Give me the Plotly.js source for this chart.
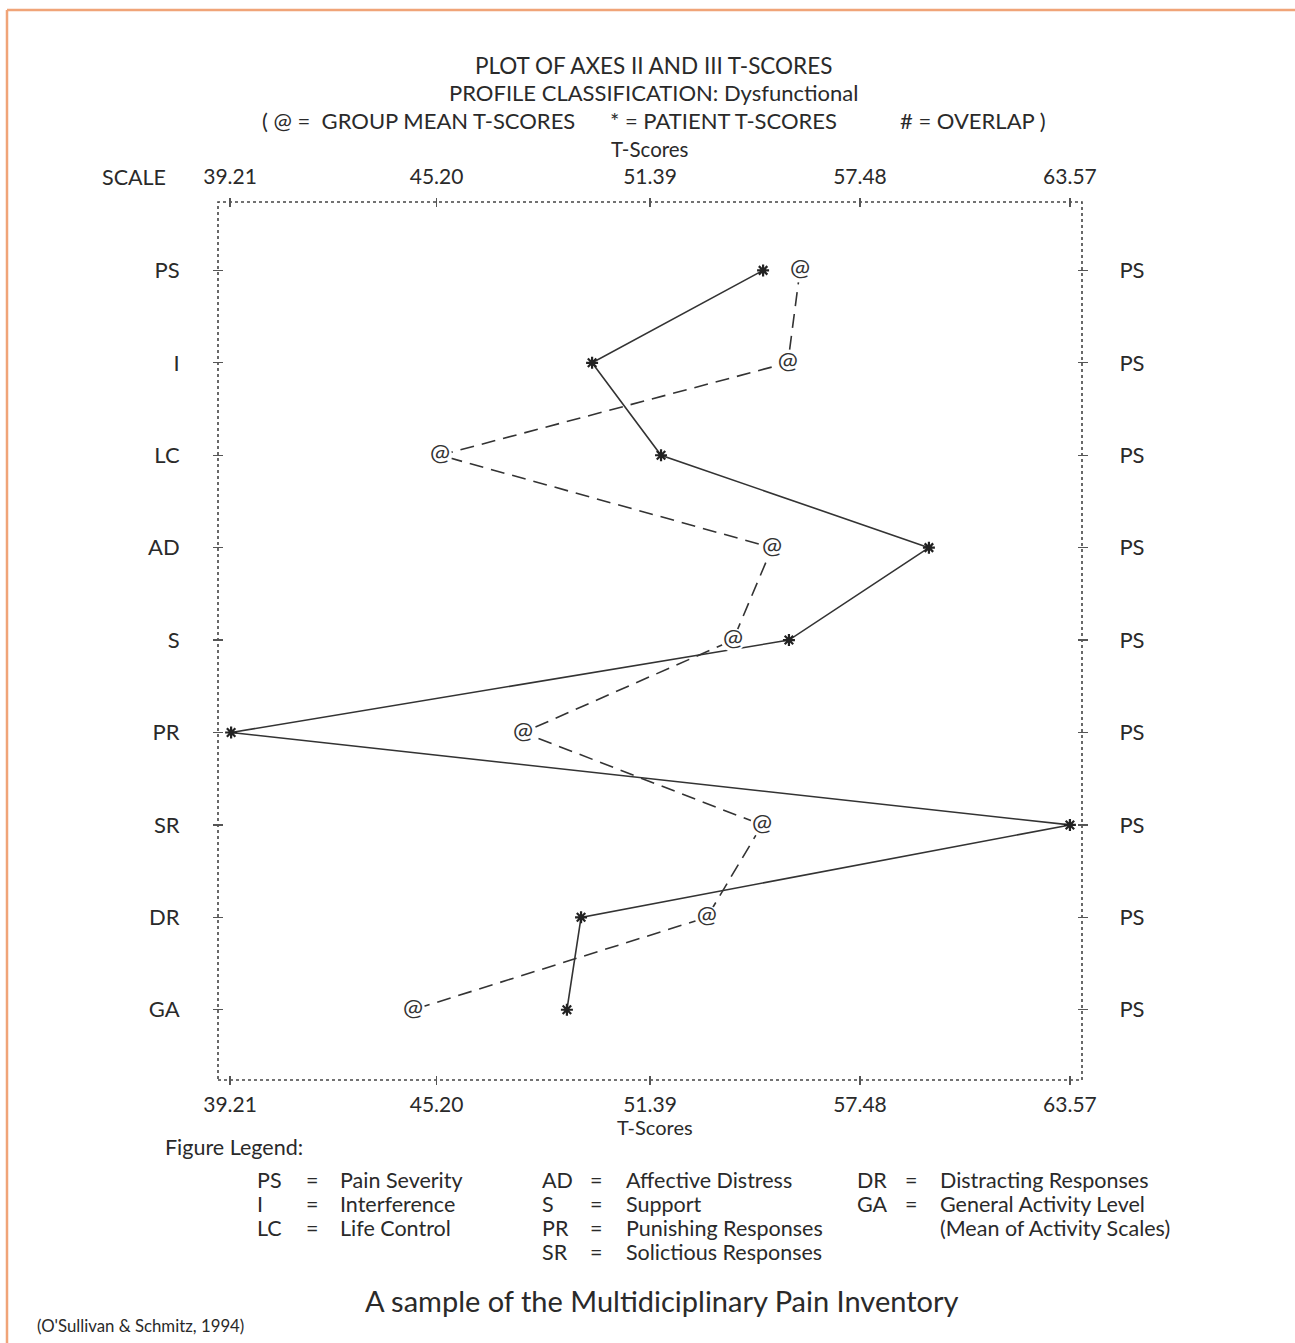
<!DOCTYPE html>
<html>
<head>
<meta charset="utf-8">
<script src="https://cdn.plot.ly/plotly-3.0.1.min.js"></script>
<style>html,body{margin:0;padding:0;background:#fff;}#chart{width:1295px;height:1343px;}</style>
</head>
<body>
<div id="chart"></div>
<script>
// ---- data ----
const categories = ['PS', 'I', 'LC', 'AD', 'S', 'PR', 'SR', 'DR', 'GA'];
const rightLabels = ['PS', 'PS', 'PS', 'PS', 'PS', 'PS', 'PS', 'PS', 'PS'];
const patientScores = [54.67, 49.71, 51.71, 59.48, 55.42, 39.24, 63.57, 49.39, 48.98];
const groupMeanScores = [55.74, 55.39, 45.30, 54.93, 53.80, 47.71, 54.64, 53.04, 44.52];
const scaleTicks = [39.21, 45.20, 51.39, 57.48, 63.57];
const scaleTickText = ['39.21', '45.20', '51.39', '57.48', '63.57'];
const legendAbbr = [['PS', 'I', 'LC'], ['AD', 'S', 'PR', 'SR'], ['DR', 'GA', '']];
const legendDesc = [['Pain Severity', 'Interference', 'Life Control'],
                    ['Affective Distress', 'Support', 'Punishing Responses', 'Solictious Responses'],
                    ['Distracting Responses', 'General Activity Level', '(Mean of Activity Scales)']];

// ---- layout helpers (pixel -> paper) ----
const L = 218, R = 1082, T = 202, B = 1080;
const px = p => (p - L) / (R - L);
const py = p => (B - p) / (B - T);
const FONT = 'Lato, "Open Sans", sans-serif';
const INK = '#2a2a2a';
const yIdx = categories.map((c, i) => i);
const xRange = [38.86, 63.92];
const yRange = [8.76, -0.74];

const traces = [
  {
    x: patientScores, y: yIdx, xaxis: 'x', yaxis: 'y',
    mode: 'lines+markers', name: 'Patient',
    line: {color: '#333', width: 1.6},
    marker: {symbol: 'asterisk-open', size: 10, line: {color: '#222', width: 2.2}, color: '#222'},
    hoverinfo: 'x'
  },
  {
    x: groupMeanScores, y: yIdx, xaxis: 'x2', yaxis: 'y2',
    mode: 'lines+markers+text', name: 'Group mean',
    line: {color: '#333', width: 1.6, dash: '14px,8px'},
    marker: {symbol: 'circle', size: 24, color: '#fff', line: {width: 0}},
    text: groupMeanScores.map(() => '@'), textposition: 'middle center',
    textfont: {family: FONT, size: 24, color: '#333'},
    cliponaxis: false,
    hoverinfo: 'x'
  }
];

function ann(text, xp, yp, size, xanchor, extra) {
  return Object.assign({
    text: text, xref: 'paper', yref: 'paper', x: px(xp), y: py(yp),
    xanchor: xanchor || 'center', yanchor: 'middle', showarrow: false,
    font: {family: FONT, size: size, color: INK}
  }, extra || {});
}

const annotations = [
  ann('PLOT OF AXES II AND III T-SCORES', 653, 65, 22.5),
  ann('PROFILE CLASSIFICATION: Dysfunctional', 653, 93, 22),
  ann('( @ =  GROUP MEAN T-SCORES', 260, 121, 22, 'left'),
  ann('* = PATIENT T-SCORES', 608, 121, 22, 'left'),
  ann('# = OVERLAP )', 898, 121, 22, 'left'),
  ann('T-Scores', 650, 149, 20.5),
  ann('SCALE', 100, 177, 21.5, 'left'),
  ann('T-Scores', 655, 1127, 20),
  ann('Figure Legend:', 163, 1147, 21.5, 'left'),
  ann('A sample of the Multidiciplinary Pain Inventory', 662, 1300, 29),
  ann("(O'Sullivan & Schmitz, 1994)", 35, 1325, 16.8, 'left')
];
const colX = [[255, 304, 338], [540, 588, 624], [855, 903, 938]];
const rowY = [1180, 1204, 1228, 1252];
legendAbbr.forEach((col, ci) => {
  col.forEach((ab, ri) => {
    if (ab) {
      annotations.push(ann(ab, colX[ci][0], rowY[ri], 21.5, 'left'));
      annotations.push(ann('=', colX[ci][1], rowY[ri], 21.5, 'left'));
    }
    annotations.push(ann(legendDesc[ci][ri], colX[ci][2], rowY[ri], 21.5, 'left'));
  });
});

const tickFont = {family: FONT, size: 21, color: INK};
const catFont = {family: FONT, size: 22, color: INK};
const layout = {
  width: 1295, height: 1343,
  margin: {l: L, r: 1295 - R, t: T, b: 1343 - B, pad: 0},
  paper_bgcolor: '#fff', plot_bgcolor: '#fff',
  showlegend: false,
  xaxis: {
    range: xRange, tickmode: 'array', tickvals: scaleTicks, ticktext: scaleTickText,
    showgrid: false, zeroline: false, showline: false,
    anchor: 'free', position: 0.0057, side: 'bottom',
    ticks: 'outside', ticklen: 9, tickwidth: 1.2, tickcolor: '#555',
    tickfont: tickFont, ticklabelstandoff: 2
  },
  xaxis2: {
    range: xRange, tickmode: 'array', tickvals: scaleTicks, ticktext: scaleTickText,
    overlaying: 'x', side: 'top', anchor: 'free', position: 0.9943,
    showgrid: false, zeroline: false, showline: false,
    ticks: 'outside', ticklen: 9, tickwidth: 1.2, tickcolor: '#555',
    tickfont: tickFont, ticklabelstandoff: 6
  },
  yaxis: {
    range: yRange, tickmode: 'array', tickvals: yIdx, ticktext: categories,
    showgrid: false, zeroline: false, showline: false,
    anchor: 'free', position: 0.0058,
    ticks: 'outside', ticklen: 10, tickwidth: 1.2, tickcolor: '#555',
    tickfont: catFont, ticklabelstandoff: 29
  },
  yaxis2: {
    range: yRange, tickmode: 'array', tickvals: yIdx, ticktext: rightLabels,
    overlaying: 'y', side: 'right', anchor: 'free', position: 0.9942,
    showgrid: false, zeroline: false, showline: false,
    ticks: 'outside', ticklen: 10, tickwidth: 1.2, tickcolor: '#555',
    tickfont: catFont, ticklabelstandoff: 27
  },
  shapes: [
    {type: 'rect', xref: 'paper', yref: 'paper', x0: 0, x1: 1, y0: 0, y1: 1,
     line: {color: '#444', width: 1.6, dash: 'dot'}, layer: 'below'},
    {type: 'line', xref: 'paper', yref: 'paper', x0: px(7), x1: px(1295), y0: py(10), y1: py(10),
     line: {color: '#f0a478', width: 2.5}},
    {type: 'line', xref: 'paper', yref: 'paper', x0: px(7), x1: px(7), y0: py(10), y1: py(1343),
     line: {color: '#f0a478', width: 2.5}}
  ],
  annotations: annotations
};

Plotly.newPlot('chart', traces, layout, {staticPlot: true, displayModeBar: false});
</script>
</body>
</html>
